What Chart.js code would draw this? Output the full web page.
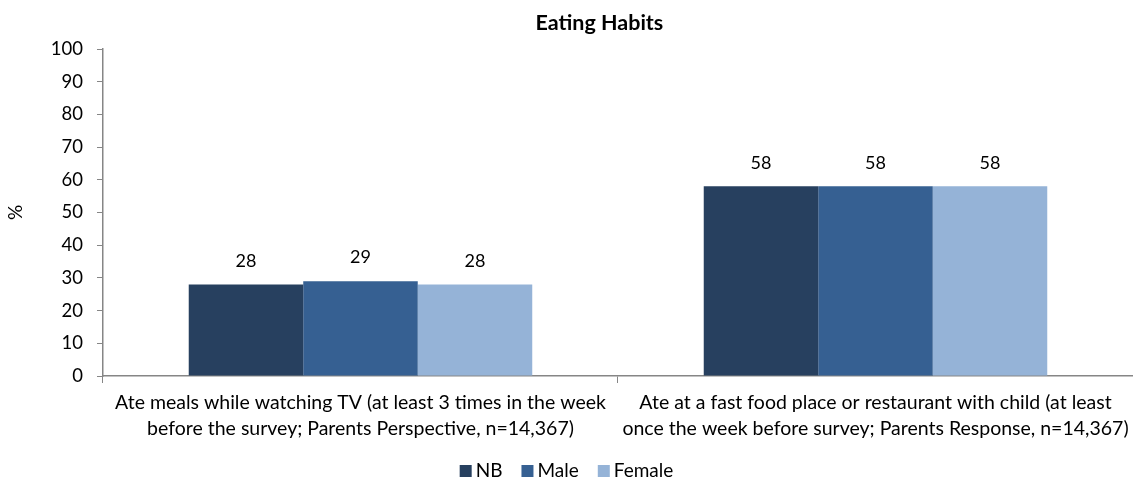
<!DOCTYPE html>
<html>
<head>
<meta charset="utf-8">
<script src="https://cdn.jsdelivr.net/npm/chart.js@4"></script>
<style>
  html, body { margin: 0; padding: 0; background: #fff; }
  #wrap { width: 1133px; height: 478px; position: relative; }
</style>
</head>
<body>
<div id="wrap"><canvas id="myChart"></canvas></div>
<script>
// Survey categories (two-line labels) and percentages per group
const categories = [
    ['Ate meals while watching TV (at least 3 times in the week', 'before the survey; Parents Perspective, n=14,367)'],
    ['Ate at a fast food place or restaurant with child (at least', 'once the week before survey; Parents Response, n=14,367)']
];
const nbValues = [28, 58];
const maleValues = [29, 58];
const femaleValues = [28, 58];
const seriesNames = ['NB', 'Male', 'Female'];
const seriesColors = ['#27405F', '#366092', '#95B3D7'];
const yTicks = { min: 0, max: 100, step: 10 };
const chartTitle = 'Eating Habits';

const FONT = 'Lato, "Liberation Sans", sans-serif';

// Writes each bar's value just above it
const valueLabels = {
    id: 'valueLabels',
    afterDatasetsDraw(chart) {
        const ctx = chart.ctx;
        ctx.save();
        ctx.font = `18px ${FONT}`;
        ctx.fillStyle = '#000';
        ctx.textAlign = 'center';
        ctx.textBaseline = 'middle';
        chart.data.datasets.forEach((ds, i) => {
            chart.getDatasetMeta(i).data.forEach((bar, j) => {
                ctx.fillText(ds.data[j], bar.x, bar.y - 23.5);
            });
        });
        ctx.restore();
    }
};

// Bold heading, sitting a little left of the plot centre
const headline = {
    id: 'headline',
    afterDraw(chart) {
        const ctx = chart.ctx;
        ctx.save();
        ctx.font = `bold 21.5px ${FONT}`;
        ctx.fillStyle = '#000';
        ctx.textAlign = 'center';
        ctx.textBaseline = 'middle';
        ctx.fillText(chartTitle, chart.width * 0.529, 23);
        ctx.restore();
    }
};

// Compact legend row along the bottom edge: square swatch, name, gap
const bottomLegend = {
    id: 'bottomLegend',
    afterDraw(chart) {
        const ctx = chart.ctx;
        const box = 12, textGap = 4, itemGap = 19;
        ctx.save();
        ctx.font = `19px ${FONT}`;
        ctx.textBaseline = 'middle';
        ctx.textAlign = 'left';
        const widths = chart.data.datasets.map(ds => ctx.measureText(ds.label).width);
        const total = widths.reduce((s, w) => s + box + textGap + w, 0) + itemGap * (widths.length - 1);
        let x = (chart.width - total) / 2;
        const y = chart.height - 7;
        chart.data.datasets.forEach((ds, i) => {
            ctx.fillStyle = ds.backgroundColor;
            ctx.fillRect(x, y - box / 2, box, box);
            x += box + textGap;
            ctx.fillStyle = '#000';
            ctx.fillText(ds.label, x, y);
            x += widths[i] + itemGap;
        });
        ctx.restore();
    }
};

const allValues = [nbValues, maleValues, femaleValues];

const ctx = document.getElementById('myChart');
const eatingChart = new Chart(ctx, {
    type: 'bar',
    data: {
        labels: categories,
        datasets: seriesNames.map((name, i) => ({
            label: name,
            data: allValues[i],
            backgroundColor: seriesColors[i],
            borderWidth: 0,
            categoryPercentage: 0.667,
            barPercentage: 1.0,
        }))
    },
    options: {
        responsive: true,
        maintainAspectRatio: false,
        animation: false,
        layout: { padding: { top: 49, right: 0, bottom: 36, left: 0 } },
        plugins: {
            title: { display: false },
            legend: { display: false },
            tooltip: { enabled: false }
        },
        scales: {
            x: {
                grid: {
                    display: true,
                    offset: true,
                    drawOnChartArea: false,
                    drawTicks: true,
                    tickLength: 7,
                    color: '#868686'
                },
                border: { color: '#868686', width: 1.5 },
                ticks: {
                    color: '#000',
                    font: { family: FONT, size: 19.5, lineHeight: 1.333 },
                    maxRotation: 0,
                    autoSkip: false,
                    padding: 7
                },
                // long labels may run past the plot edges; keep the plot full width
                // and the axis only as tall as its two label lines
                afterFit(scale) {
                    scale.paddingLeft = 0;
                    scale.paddingRight = 0;
                    scale.height = 66;
                }
            },
            y: {
                min: yTicks.min,
                max: yTicks.max,
                grid: {
                    display: true,
                    drawOnChartArea: false,
                    drawTicks: true,
                    tickLength: 6,
                    color: '#868686'
                },
                border: { color: '#868686', width: 1.5 },
                ticks: {
                    stepSize: yTicks.step,
                    color: '#000',
                    font: { family: FONT, size: 18.5 },
                    padding: 14
                },
                title: {
                    display: true,
                    text: '%',
                    color: '#000',
                    font: { family: FONT, size: 19 },
                    padding: { top: 4, bottom: 10 }
                }
            }
        }
    },
    plugins: [valueLabels, headline, bottomLegend]
});
</script>
</body>
</html>
